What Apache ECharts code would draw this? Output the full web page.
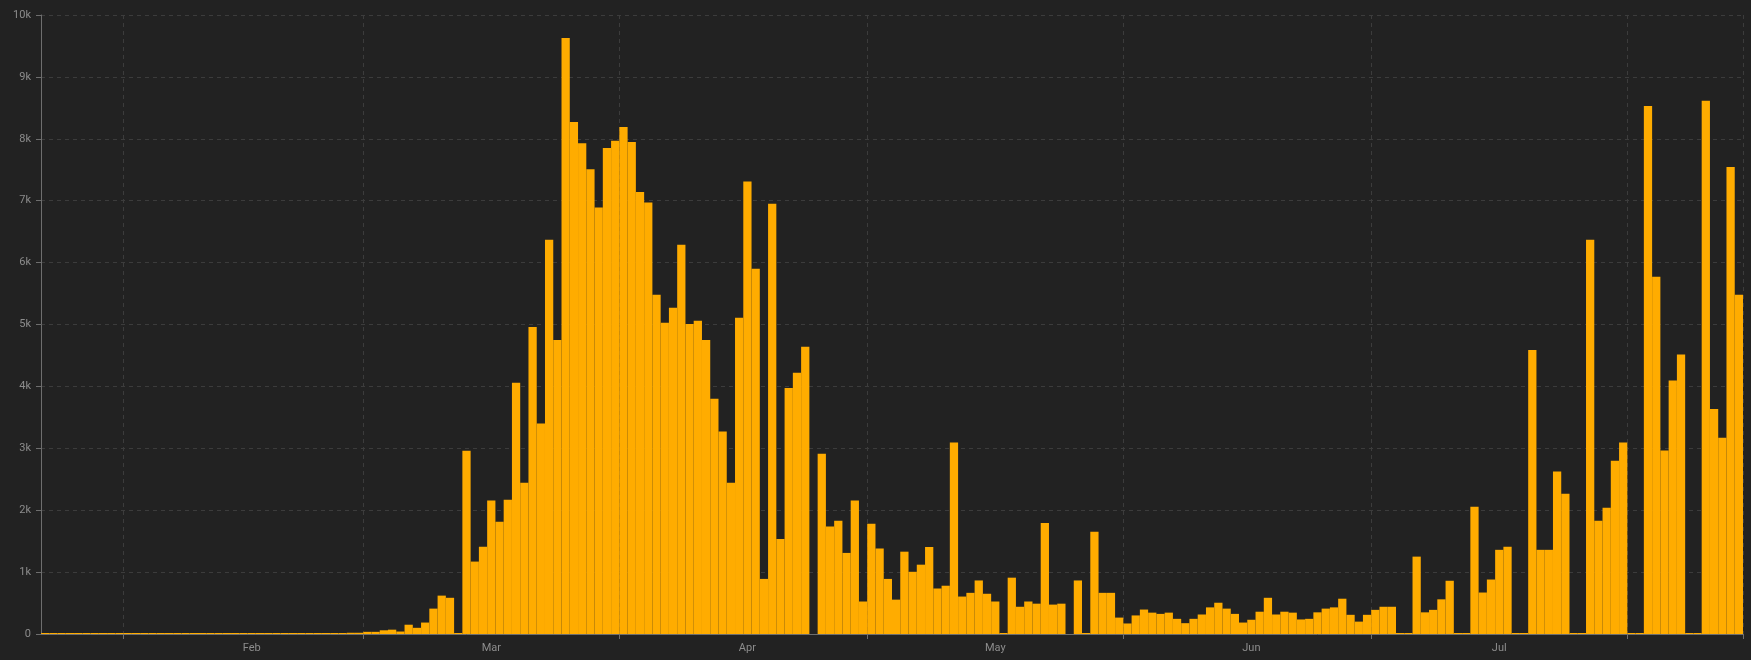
<!DOCTYPE html>
<html>
<head>
<meta charset="utf-8">
<style>
  html, body { margin: 0; padding: 0; background: #222222; }
  #chart { width: 1751px; height: 660px; }
</style>
<script src="https://cdn.jsdelivr.net/npm/echarts@6/dist/echarts.min.js"></script>
</head>
<body>
<div id="chart"></div>
<script>
// ---- data ----
const startDate = '2020-01-22';
const dayCount = 206;

const valuesJanFeb = [
  0,0,0,0,0,0,0,0,0,0,                       // Jan 22-31
  0,0,0,0,0,0,0,0,0,0,0,0,0,0,0,0,0,0,0,0,0,0,0,0,0,0,0, // Feb 1-27
  20,20                                       // Feb 28-29
];
const valuesMar = [35,35,60,70,40,150,100,185,410,620,585,0,2960,1170,1410,2155,1815,2170,4060,2445,4960,3400,6370,4750,9630,8270,7930,7510,6890,7850,7970];
const valuesApr = [8190,7950,7140,6970,5480,5030,5270,6290,5010,5060,4750,3800,3270,2445,5110,7310,5900,890,6950,1535,3975,4220,4640,null,2910,1735,1830,1310,2155,525];
const valuesMay = [1780,1380,890,555,1330,1005,1120,1405,735,780,3095,605,665,865,650,525,0,910,440,525,490,1795,475,490,null,865,0,1650,665,665,265];
const valuesJun = [170,300,395,345,325,345,245,175,245,315,430,505,410,325,185,230,360,585,315,360,345,235,245,350,410,430,570,310,200,310];
const valuesJul = [390,440,440,0,0,1250,350,390,560,860,0,0,2055,670,880,1360,1410,0,0,4590,1360,1360,2625,2265,0,0,6370,1830,2040,2800,3095];
const valuesAug = [0,0,8530,5770,2965,4095,4515,0,0,8615,3635,3170,7545,5480];

const yTicks = [0,1000,2000,3000,4000,5000,6000,7000,8000,9000,10000];
const monthNames = ['Jan','Feb','Mar','Apr','May','Jun','Jul','Aug','Sep','Oct','Nov','Dec'];

// categories (one per day)
const categories = [];
{
  const d0 = new Date(startDate + 'T00:00:00Z');
  for (let i = 0; i < dayCount; i++) {
    const d = new Date(d0.getTime() + i * 86400000);
    categories.push(d.toISOString().slice(0, 10));
  }
}
const values = [].concat(valuesJanFeb, valuesMar, valuesApr, valuesMay, valuesJun, valuesJul, valuesAug);

const dayOf = (s) => parseInt(s.slice(8, 10), 10);
const monthOf = (s) => parseInt(s.slice(5, 7), 10) - 1;

const chart = echarts.init(document.getElementById('chart'), null, { renderer: 'canvas' });
chart.setOption({
  backgroundColor: '#222222',
  animation: false,
  grid: { left: 41, right: 8, top: 15, bottom: 26, containLabel: false },
  xAxis: {
    type: 'category',
    data: categories,
    boundaryGap: true,
    axisLine: { show: true, lineStyle: { color: '#6e6e6e', width: 1 } },
    axisTick: {
      show: true,
      length: 5,
      lineStyle: { color: '#6e6e6e' },
      interval: (idx, val) => dayOf(val) === 1
    },
    axisLabel: {
      show: true,
      color: '#8c8c8c',
      fontFamily: 'Roboto, sans-serif',
      fontSize: 11,
      margin: 9,
      interval: (idx, val) => dayOf(val) === 16,
      formatter: (val) => monthNames[monthOf(val)]
    },
    splitLine: {
      show: true,
      interval: (idx, val) => dayOf(val) === 1,
      lineStyle: { color: '#3c3c3c', type: [4, 4], width: 1 }
    }
  },
  yAxis: {
    type: 'value',
    min: yTicks[0],
    max: yTicks[yTicks.length - 1],
    interval: 1000,
    axisLine: { show: true, lineStyle: { color: '#6e6e6e', width: 1 } },
    axisTick: { show: true, length: 5, lineStyle: { color: '#6e6e6e' } },
    axisLabel: {
      color: '#8c8c8c',
      fontFamily: 'Roboto, sans-serif',
      fontSize: 11,
      margin: 10,
      formatter: (v) => v === 0 ? '0' : (v / 1000) + 'k'
    },
    splitLine: { show: true, lineStyle: { color: '#3c3c3c', type: [4, 4], width: 1 } }
  },
  series: [{
    type: 'bar',
    data: values,
    barCategoryGap: '0%',
    barMinHeight: 1,
    itemStyle: { color: '#FFAC00' },
    z: 3
  }]
});
</script>
</body>
</html>
